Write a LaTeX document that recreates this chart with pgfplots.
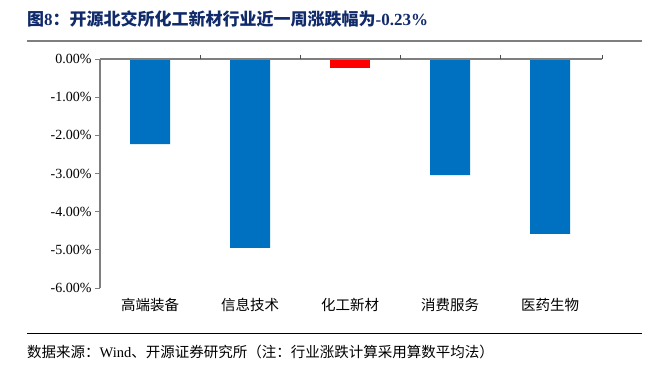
\documentclass[border=0pt]{standalone}
\usepackage{fontspec}
\setmainfont{Liberation Serif}[BoldFont={Liberation Serif Bold}]
\newfontfamily\cjk{Noto Sans CJK SC}
\usepackage{pgfplots}
\pgfplotsset{compat=1.18}
\definecolor{barblue}{HTML}{0070C0}
\definecolor{titleblue}{HTML}{102A6A}
\definecolor{axgray}{HTML}{7F7F7F}
\begin{document}
\begin{tikzpicture}[x=1pt,y=1pt]
\path[use as bounding box] (0,0) rectangle (650,365);
\node[anchor=west, inner sep=0pt, text=titleblue, font=\fontsize{17}{17}\selectfont] at (27,346)
  {{\cjk\bfseries 图}\textbf{8}{\cjk\bfseries ：开源北交所化工新材行业近一周涨跌幅为}\textbf{-0.23\%}};
\draw[line width=2pt, axgray] (27,324) -- (642,324);
\draw[line width=1pt, black] (27,32) -- (642,32);
\node[anchor=west, inner sep=0pt, font=\fontsize{14.5}{14.5}\selectfont] at (27,13)
  {{\cjk 数据来源：}Wind{\cjk 、开源证券研究所（注：行业涨跌计算采用算数平均法）}};
\begin{axis}[
  at={(100pt,77pt)}, anchor=south west,
  scale only axis, width=502pt, height=229pt,
  xmin=-0.5, xmax=4.52, ymin=-6, ymax=0,
  clip=false,
  axis x line*=bottom, axis y line*=left,
  x axis line style={draw=none},
  y axis line style={draw=axgray, line width=1.2pt, -},
  xtick={0,1,2,3,4},
  xticklabels={高端装备,信息技术,化工新材,消费服务,医药生物},
  xtick style={draw=none},
  xticklabel style={font=\cjk\fontsize{14.5}{14.5}\selectfont, yshift=-2pt},
  ytick={-6,-5,-4,-3,-2,-1,0},
  yticklabels={-6.00\%,-5.00\%,-4.00\%,-3.00\%,-2.00\%,-1.00\%,0.00\%},
  yticklabel style={font=\fontsize{14}{14}\selectfont},
  ytick style={draw=axgray, line width=1pt},
  tick align=outside,
  major tick length=5pt,
]
\addplot[ybar, bar width=40pt, bar shift=0pt, fill=barblue, draw=none]
  coordinates {(0,-2.23) (1,-4.95) (3,-3.04) (4,-4.58)};
\addplot[ybar, bar width=40pt, bar shift=0pt, fill=red, draw=none]
  coordinates {(2,-0.23)};
\draw[axgray, line width=1.5pt] (axis cs:-0.5,0) -- (axis cs:4.52,0);
\pgfplotsinvokeforeach{0.5,1.5,2.5,3.5,4.52}{
  \draw[axgray!60!black, line width=1pt] (axis cs:#1,0) -- ++(0pt,4pt);
}
\end{axis}
\end{tikzpicture}
\end{document}
